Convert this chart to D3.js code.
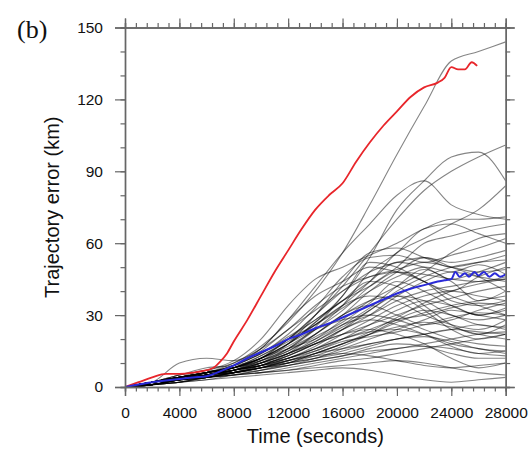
<!DOCTYPE html>
<html><head><meta charset="utf-8">
<script src="https://cdn.jsdelivr.net/npm/d3@7"></script>
<style>body{margin:0;background:#fff}svg{display:block}</style>
</head><body>
<svg id="c" width="531" height="450"></svg>
<script>
const xTicks = [0,4000,8000,12000,16000,20000,24000,28000];
const yTicks = [0,30,60,90,120,150];
const grayTimes = [0,2000,4000,6000,8000,10000,12000,14000,16000,18000,20000,22000,24000,26000,28000];
const grayRuns = [
 [0,2,4,6,10,17,27,40,56,76,97,117,136,140,144],
 [0,1,3,5,7,12,18,27,38,54,74,86,96,98,86],
 [0,2,3,5,8,13,20,30,42,56,70,82,90,96,101],
 [0,2,4,6,9,16,28,42,56,68,80,86,76,72,70],
 [0,1,3,5,8,12,18,26,34,44,56,62,68,74,84],
 [0,2,5,7,11,20,34,45,50,55,60,66,70,70,71],
 [0,2,4,6,9,14,22,33,46,54,55,52,55,58,62],
 [0,2,4,5,8,12,17,24,32,42,50,60,63,66,68],
 [0,1,3,4,7,11,16,22,30,40,48,54,52,54,57],
 [0,2,3,5,7,10,16,25,38,52,50,44,40,46,50],
 [0,2,4,6,8,12,20,28,36,44,52,50,45,48,52],
 [0,1,3,5,9,15,24,32,40,46,49,52,50,48,49],
 [0,2,4,6,9,14,20,26,33,40,46,50,48,51,47],
 [0,2,3,5,7,10,14,19,26,33,42,49,44,36,40],
 [0,1,2,4,6,9,13,18,24,30,38,44,48,46,44],
 [0,2,4,5,8,13,19,26,34,38,36,30,26,24,28],
 [0,2,5,7,10,16,28,38,44,50,48,44,38,34,30],
 [0,2,3,5,7,9,12,16,22,28,34,38,40,38,36],
 [0,1,3,4,6,8,11,15,20,26,32,36,34,30,32],
 [0,2,4,6,8,11,15,22,30,36,38,32,24,20,22],
 [0,2,4,5,7,10,14,18,22,26,30,34,37,40,42],
 [0,1,3,5,6,8,10,13,17,22,28,32,30,26,25],
 [0,2,4,6,8,12,18,24,28,30,28,24,20,18,17],
 [0,2,3,4,6,8,11,14,18,22,25,27,25,22,20],
 [0,1,3,5,7,9,12,16,20,23,24,22,18,16,14],
 [0,2,4,5,6,8,10,12,15,18,20,22,24,26,24],
 [0,2,3,5,6,8,9,11,13,16,18,17,14,12,12],
 [0,1,2,4,5,6,8,10,12,14,16,17,16,14,13],
 [0,2,4,6,7,9,12,17,24,32,40,46,50,52,53],
 [0,2,10,12,11,16,24,34,42,46,48,47,45,44,46],
 [0,2,4,6,8,12,18,27,36,44,42,34,26,22,26],
 [0,1,3,4,6,9,13,18,24,28,26,22,17,14,15],
 [0,2,3,5,7,9,13,18,22,24,22,18,12,8,10],
 [0,1,3,4,5,6,7,9,11,12,14,16,18,20,22],
 [0,2,4,5,7,10,14,19,25,32,38,36,30,28,30],
 [0,2,4,6,8,12,16,20,26,30,36,40,42,44,45],
 [0,1,2,3,5,7,10,14,18,22,27,31,34,36,38],
 [0,2,4,6,9,14,21,28,36,42,48,44,36,34,36],
 [0,2,3,4,5,6,7,8,9,10,11,10,8,6,5],
 [0,1,3,5,7,9,11,14,16,18,20,21,19,16,15],
 [0,2,4,6,8,11,16,24,34,48,56,66,68,64,60],
 [0,1,3,5,7,11,18,30,44,56,58,54,50,52,55],
 [0,2,3,5,7,10,14,20,28,36,42,48,56,62,64],
 [0,2,4,5,6,7,9,12,16,20,24,28,32,30,28],
 [0,1,2,4,6,8,11,13,14,13,11,9,8,9,10],
 [0,2,4,6,7,9,10,12,14,17,20,22,24,23,22],
 [0,2,5,8,9,12,20,30,40,48,52,54,50,46,40],
 [0,1,3,4,6,8,12,16,20,24,28,30,33,35,34],
 [0,2,3,5,6,8,10,14,18,23,29,35,40,43,45],
 [0,1,2,4,5,7,9,11,13,15,16,18,20,22,23],
 [0,1,2,3,4,5,6,7,8,7,5,3,2,3,4],
 [0,2,4,7,6,9,14,22,30,34,30,26,28,32,35],
 [0,1,3,4,6,10,15,21,27,35,44,40,34,30,33],
 [0,2,3,6,8,10,12,15,19,21,23,26,29,31,30]
];
const redTimes = [0,1000,2000,3000,4000,5000,6000,6500,7000,7500,8000,9000,10000,11000,12000,13000,14000,15000,16000,17000,18000,19000,20000,21000,22000,23000,23500,24000,24500,25000,25500,25900];
const redValues = [0,2,4,5.5,5.5,6,7,8,10.6,14,19,28,38,48,57,66,74,80,85,94,102,109,115,121,125,127,129,133.5,132.5,132.5,135.5,134];
const blueTimes = [0,1000,2000,3000,4000,5000,6000,7000,8000,9000,10000,11000,12000,13000,14000,15000,16000,17000,18000,19000,20000,21000,22000,23000,23500,24000,24300,24600,25000,25300,25700,26000,26400,26800,27200,27600,28000];
const blueValues = [0,1,2,2.7,3.3,4,4.5,6.5,9,12,14.5,17,20,22,24.5,26.5,29,31.5,34,36.5,39,41,42.5,44,44.5,45,48,46,47.5,46,48,46.5,48,46,47.5,46,47];

const svg = d3.select('#c');
const L = 125, R = 505.7, T = 27.5, B = 387;
const x = d3.scaleLinear().domain([0,28000]).range([L,R]);
const y = d3.scaleLinear().domain([0,150]).range([B,T]);

svg.append('defs').append('clipPath').attr('id','clip')
  .append('rect').attr('x',L).attr('y',T).attr('width',R-L).attr('height',B-T);

const g = svg.append('g').attr('clip-path','url(#clip)');
const line = d3.line().curve(d3.curveMonotoneX);

grayRuns.forEach(run => {
  g.append('path')
    .attr('d', line(run.map((v,i)=>[x(grayTimes[i]), y(v)])))
    .attr('fill','none').attr('stroke','#000').attr('stroke-opacity',0.48).attr('stroke-width',1.1);
});
g.append('path')
  .attr('d', line(redValues.map((v,i)=>[x(redTimes[i]), y(v)])))
  .attr('fill','none').attr('stroke','#e8262b').attr('stroke-width',1.8);
g.append('path')
  .attr('d', line(blueValues.map((v,i)=>[x(blueTimes[i]), y(v)])))
  .attr('fill','none').attr('stroke','#2a2ad8').attr('stroke-width',2);

const axColor = '#666';
const xMinor = d3.range(0,28001,800);
const yMinor = d3.range(0,151,10);
function styleAxis(sel){
  sel.select('.domain').attr('stroke',axColor).attr('stroke-width',1.4);
  sel.selectAll('.tick line').attr('stroke',axColor).attr('stroke-width',1.2);
}
[[d3.axisBottom, B],[d3.axisTop, T]].forEach(([fn,pos])=>{
  const m = svg.append('g').attr('transform',`translate(0,${pos})`)
    .call(fn(x).tickValues(xMinor).tickSize(4.5).tickFormat(''));
  styleAxis(m);
});
[[d3.axisLeft, L],[d3.axisRight, R]].forEach(([fn,pos])=>{
  const m = svg.append('g').attr('transform',`translate(${pos},0)`)
    .call(fn(y).tickValues(yMinor).tickSize(4.5).tickFormat(''));
  styleAxis(m);
});
const xb = svg.append('g').attr('transform',`translate(0,${B})`)
  .call(d3.axisBottom(x).tickValues(xTicks).tickSize(9).tickPadding(11).tickFormat(d3.format('d')));
styleAxis(xb);
const xt = svg.append('g').attr('transform',`translate(0,${T})`)
  .call(d3.axisTop(x).tickValues(xTicks).tickSize(9).tickFormat(''));
styleAxis(xt);
const yl = svg.append('g').attr('transform',`translate(${L},0)`)
  .call(d3.axisLeft(y).tickValues(yTicks).tickSize(10).tickPadding(12).tickFormat(d3.format('d')));
styleAxis(yl);
const yr = svg.append('g').attr('transform',`translate(${R},0)`)
  .call(d3.axisRight(y).tickValues(yTicks).tickSize(9).tickFormat(''));
styleAxis(yr);
svg.selectAll('.tick text').attr('fill','#111')
  .style('font-family','"Liberation Sans", Arial, sans-serif').style('font-size','15.5px');

svg.append('text').attr('x',(L+R)/2).attr('y',443).attr('text-anchor','middle')
  .style('font-family','"Liberation Sans", Arial, sans-serif').style('font-size','20px').attr('fill','#111')
  .text('Time (seconds)');
svg.append('text').attr('transform',`translate(59,${(T+B)/2}) rotate(-90)`).attr('text-anchor','middle')
  .style('font-family','"Liberation Sans", Arial, sans-serif').style('font-size','20px').attr('fill','#111')
  .text('Trajectory error (km)');
svg.append('text').attr('x',17).attr('y',38)
  .style('font-family','"Liberation Serif", "Times New Roman", serif').style('font-size','26px').attr('fill','#111')
  .text('(b)');
</script>
</body></html>
